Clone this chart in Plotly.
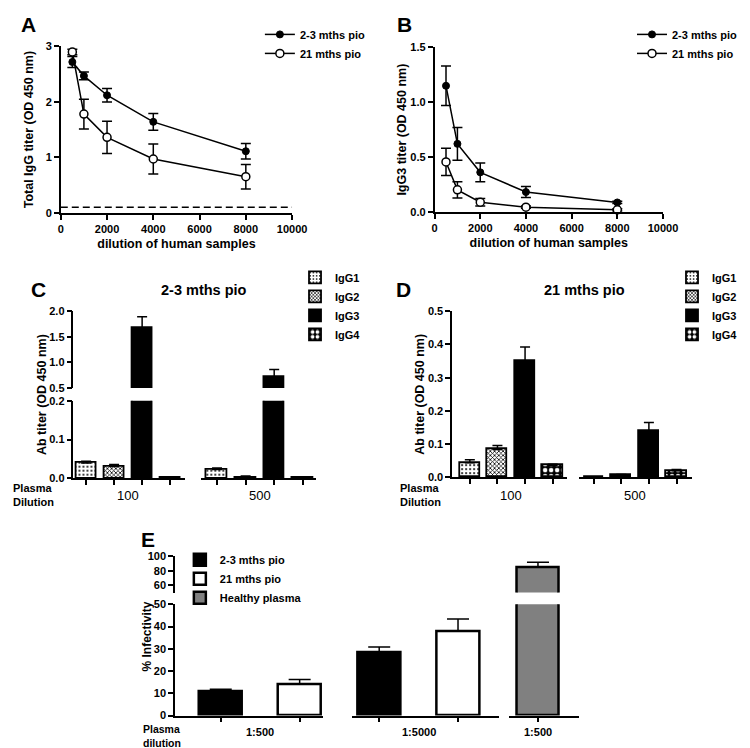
import plotly.graph_objects as go

W, H = 750, 748
FONT = "Liberation Sans, Arial, sans-serif"


def px(x):
    return x / W


def py(y):
    return 1 - y / H


# ---------------- data ----------------
series_names = ["2-3 mths pio", "21 mths pio"]
dilutions = [500, 1000, 2000, 4000, 8000]

# Panel A: total IgG
a_early = [2.72, 2.47, 2.12, 1.64, 1.11]
a_early_err = [0.10, 0.07, 0.12, 0.15, 0.14]
a_late = [2.90, 1.78, 1.36, 0.97, 0.65]
a_late_err = [0.05, 0.27, 0.29, 0.27, 0.22]
a_cutoff = 0.1
a_xticks = [0, 2000, 4000, 6000, 8000, 10000]

# Panel B: IgG3
b_early = [1.15, 0.62, 0.36, 0.18, 0.085]
b_early_err = [0.18, 0.15, 0.085, 0.05, 0.01]
b_late = [0.455, 0.20, 0.087, 0.042, 0.018]
b_late_err = [0.125, 0.075, 0.035, 0.01, 0.01]

# Panels C, D: subclasses
isotypes = ["IgG1", "IgG2", "IgG3", "IgG4"]
plasma_groups_cd = ["100", "500"]
c_100 = [0.040, 0.031, 1.66, 0.002]
c_100_err = [0.004, 0.005, 0.23, 0.001]
c_500 = [0.023, 0.003, 0.71, 0.001]
c_500_err = [0.004, 0.003, 0.15, 0.0]
d_100 = [0.044, 0.084, 0.351, 0.036]
d_100_err = [0.009, 0.012, 0.041, 0.004]
d_500 = [0.001, 0.006, 0.140, 0.020]
d_500_err = [0.0, 0.003, 0.025, 0.004]

# Panel E: infectivity
e_names = ["2-3 mths pio", "21 mths pio", "Healthy plasma"]
e_group_labels = ["1:500", "1:5000", "1:500"]
e_early = [10.8, 28.2]
e_early_err = [1.0, 2.6]
e_late = [14.2, 37.9]
e_late_err = [2.0, 5.5]
e_healthy = [84.7]
e_healthy_err = [7.0]

# ---------------- styles ----------------
iso_marker = {
    "IgG1": dict(color="white", line=dict(color="black", width=1.8),
                 pattern=dict(shape=".", fgcolor="black", bgcolor="white", size=4, solidity=0.2, fillmode="replace")),
    "IgG2": dict(color="white", line=dict(color="black", width=1.8),
                 pattern=dict(shape="x", fgcolor="black", bgcolor="white", size=3, solidity=0.45, fillmode="replace")),
    "IgG3": dict(color="black", line=dict(color="black", width=1.8)),
    "IgG4": dict(color="black", line=dict(color="black", width=1.8),
                 pattern=dict(shape=".", fgcolor="white", bgcolor="black", size=6, solidity=0.45, fillmode="replace")),
}

fig = go.Figure()


def err(arr, w, minus_zero=False):
    d = dict(type="data", array=arr, color="black", thickness=1.5, width=w, visible=True)
    if minus_zero:
        d.update(symmetric=False, arrayminus=[0] * len(arr))
    return d


# ---------- Panels A and B ----------
for (xa, ya, early, early_e, late, late_e, lg) in [
    ("x", "y", a_early, a_early_err, a_late, a_late_err, "legend"),
    ("x2", "y2", b_early, b_early_err, b_late, b_late_err, "legend2"),
]:
    fig.add_trace(go.Scatter(
        x=dilutions, y=early, mode="lines+markers", name=series_names[0],
        line=dict(color="black", width=1.5),
        marker=dict(symbol="circle", size=7, color="black", line=dict(color="black", width=1)),
        error_y=err(early_e, 5), xaxis=xa, yaxis=ya, legend=lg, cliponaxis=False))
    fig.add_trace(go.Scatter(
        x=dilutions, y=late, mode="lines+markers", name=series_names[1],
        line=dict(color="black", width=1.5),
        marker=dict(symbol="circle", size=8, color="white", line=dict(color="black", width=1.5)),
        error_y=err(late_e, 5), xaxis=xa, yaxis=ya, legend=lg, cliponaxis=False))

fig.add_trace(go.Scatter(
    x=[a_xticks[0], a_xticks[-1]], y=[a_cutoff, a_cutoff], mode="lines",
    line=dict(color="black", width=1.5, dash="7px,4px"), showlegend=False,
    xaxis="x", yaxis="y", hoverinfo="skip"))

# ---------- Panel C ----------
for seg in ["y3", "y4"]:
    for xa, vals, errs in [("x3", c_100, c_100_err), ("x4", c_500, c_500_err)]:
        for i, iso in enumerate(isotypes):
            fig.add_trace(go.Bar(
                x=[i], y=[vals[i]], width=0.72, name=iso, marker=iso_marker[iso],
                error_y=err([errs[i]], 5, True), xaxis=xa, yaxis=seg,
                legend="legend3", legendgroup="C" + iso,
                showlegend=(seg == "y3" and xa == "x3")))

# ---------- Panel D ----------
for xa, vals, errs in [("x5", d_100, d_100_err), ("x6", d_500, d_500_err)]:
    for i, iso in enumerate(isotypes):
        fig.add_trace(go.Bar(
            x=[i], y=[vals[i]], width=0.73, name=iso, marker=iso_marker[iso],
            error_y=err([errs[i]], 5, True), xaxis=xa, yaxis="y5",
            legend="legend4", legendgroup="D" + iso, showlegend=(xa == "x5")))

# ---------- Panel E ----------
e_marker = [
    dict(color="black", line=dict(color="black", width=2.5)),
    dict(color="white", line=dict(color="black", width=2.5)),
    dict(color="#808080", line=dict(color="black", width=2.5)),
]
for seg in ["y6", "y7"]:
    first = seg == "y6"
    fig.add_trace(go.Bar(x=[0], y=[e_early[0]], width=0.54, name=e_names[0], marker=e_marker[0],
                         error_y=err([e_early_err[0]], 11, True), xaxis="x7", yaxis=seg,
                         legend="legend5", legendgroup="E0", showlegend=first))
    fig.add_trace(go.Bar(x=[1], y=[e_late[0]], width=0.54, name=e_names[1], marker=e_marker[1],
                         error_y=err([e_late_err[0]], 11, True), xaxis="x7", yaxis=seg,
                         legend="legend5", legendgroup="E1", showlegend=first))
    fig.add_trace(go.Bar(x=[0], y=[e_early[1]], width=0.54, name=e_names[0], marker=e_marker[0],
                         error_y=err([e_early_err[1]], 11, True), xaxis="x8", yaxis=seg,
                         legend="legend5", legendgroup="E0", showlegend=False))
    fig.add_trace(go.Bar(x=[1], y=[e_late[1]], width=0.54, name=e_names[1], marker=e_marker[1],
                         error_y=err([e_late_err[1]], 11, True), xaxis="x8", yaxis=seg,
                         legend="legend5", legendgroup="E1", showlegend=False))
    fig.add_trace(go.Bar(x=[0], y=[e_healthy[0]], width=0.53, name=e_names[2], marker=e_marker[2],
                         error_y=err([e_healthy_err[0]], 11, True), xaxis="x9", yaxis=seg,
                         legend="legend5", legendgroup="E2", showlegend=first))


# ---------------- axes ----------------
def ax(size=11, **kw):
    d = dict(showline=True, linecolor="black", linewidth=1.5, ticks="outside", ticklen=5,
             tickwidth=1.5, tickcolor="black", showgrid=False, zeroline=False,
             tickfont=dict(family=FONT, size=size, color="black", weight="bold"))
    d.update(kw)
    return d


title_font = dict(family=FONT, size=12.5, color="black", weight="bold")
a_xticktext = [str(v) for v in a_xticks]

layout_axes = dict(
    # A
    xaxis=ax(11, domain=[px(51), px(288)], anchor="y", range=[0, 10000], tickvals=a_xticks,
             ticktext=a_xticktext,
             title=dict(text="dilution of human samples", font=title_font, standoff=6)),
    yaxis=ax(11, domain=[py(202), py(33)], anchor="x", range=[0, 3], tickvals=[0, 1, 2, 3],
             title=dict(text="Total IgG titer (OD 450 nm)", font=title_font, standoff=9)),
    # B
    xaxis2=ax(11, domain=[px(434), px(668)], anchor="y2", range=[0, 10000], tickvals=a_xticks,
              ticktext=a_xticktext,
              title=dict(text="dilution of human samples", font=title_font, standoff=6)),
    yaxis2=ax(11, domain=[py(201), py(34)], anchor="x2", range=[0, 1.5], tickvals=[0, 0.5, 1, 1.5],
              tickformat=".1f", title=dict(text="IgG3 titer (OD 450 nm)", font=title_font, standoff=1)),
    # C
    xaxis3=ax(domain=[px(64), px(178)], anchor="y3", range=[-0.45, 3.52], tickvals=[0, 1, 2, 3],
              showticklabels=False),
    xaxis4=ax(domain=[px(195), px(313)], anchor="y3", range=[-0.55, 3.48], tickvals=[0, 1, 2, 3],
              showticklabels=False),
    yaxis3=ax(11, domain=[py(472), py(393)], anchor="x3", range=[0, 0.2], tickvals=[0, 0.1, 0.2],
              tickformat=".1f"),
    yaxis4=ax(11, domain=[py(380), py(302)], anchor="x3", range=[0.5, 2.0], tickvals=[0.5, 1, 1.5, 2],
              tickformat=".1f"),
    # D
    xaxis5=ax(domain=[px(452), px(570)], anchor="y5", range=[-0.64, 3.53], tickvals=[0, 1, 2, 3],
              showticklabels=False),
    xaxis6=ax(domain=[px(582), px(698)], anchor="y5", range=[-0.53, 3.57], tickvals=[0, 1, 2, 3],
              showticklabels=False),
    yaxis5=ax(11, domain=[py(471), py(302)], anchor="x5", range=[0, 0.5],
              tickvals=[0, 0.1, 0.2, 0.3, 0.4, 0.5], tickformat=".1f",
              title=dict(text="Ab titer (OD 450 nm)", font=title_font, standoff=1)),
    # E
    xaxis7=ax(domain=[px(168), px(320)], anchor="y6", range=[-0.58, 1.30], tickvals=[0, 1],
              showticklabels=False),
    xaxis8=ax(domain=[px(349), px(500)], anchor="y6", range=[-0.35, 1.52], tickvals=[0, 1],
              showticklabels=False),
    xaxis9=ax(domain=[px(510), px(582)], anchor="y6", range=[-0.37, 0.52], tickvals=[0],
              showticklabels=False),
    yaxis6=ax(11, domain=[py(713), py(600)], anchor="x7", range=[0, 50], tickvals=[0, 10, 20, 30, 40, 50]),
    yaxis7=ax(11, domain=[py(588), py(551)], anchor="x7", range=[50, 100], tickvals=[60, 80, 100]),
)


def legend_cfg(x, y, size=11, xanchor="left"):
    return dict(x=x, y=py(y), xanchor=xanchor, yanchor="top", bgcolor="rgba(0,0,0,0)",
                font=dict(family=FONT, size=size, color="black", weight="bold"),
                tracegroupgap=0, traceorder="normal", borderwidth=0)


annotations = []


def note(text, x, y, size=11, bold=True, xanchor="center", yanchor="middle", xref="paper", textangle=0,
         align="center"):
    annotations.append(dict(text=text, x=x, y=y, xref=xref, yref="paper", showarrow=False,
                            xanchor=xanchor, yanchor=yanchor, textangle=textangle, align=align,
                            font=dict(family=FONT, size=size, color="black",
                                      weight="bold" if bold else "normal")))


# panel letters
for letter, x, y in [("A", 8, 11), ("B", 393, 11), ("C", 18, 280), ("D", 392, 280), ("E", 131, 534)]:
    note(letter, px(x), py(y), size=21, xanchor="left")

# titles
note("2-3 mths pio", px(198), py(280), size=14.5)
note("21 mths pio", px(588), py(280), size=14.5)

# C y-axis title (broken axis)
note("Ab titer (OD 450 nm)", px(32), py(387), size=12.5, textangle=-90)
# E y-axis title
note("% Infectivity", px(139), py(633), size=12, textangle=-90)

# plasma dilution labels
note("Plasma<br>Dilution", px(0), py(489), size=11, xanchor="left", align="left")
note("Plasma<br>Dilution", px(397), py(489), size=11, xanchor="left", align="left")
note("Plasma<br>dilution", px(133), py(734), size=10.5, xanchor="left", align="left")

# group labels on bar axes
for xref, lab in [("x3", plasma_groups_cd[0]), ("x4", plasma_groups_cd[1]),
                  ("x5", plasma_groups_cd[0]), ("x6", plasma_groups_cd[1])]:
    note(lab, 1.5, py(489), size=13, bold=False, xref=xref)
for xref, xpos, lab in [("x7", 0.5, e_group_labels[0]), ("x8", 0.5, e_group_labels[1]),
                        ("x9", 0, e_group_labels[2])]:
    note(lab, xpos, py(730), size=11, xref=xref)

fig.update_layout(
    width=W, height=H, margin=dict(l=0, r=0, t=0, b=0),
    paper_bgcolor="white", plot_bgcolor="rgba(0,0,0,0)",
    barmode="overlay", bargap=0,
    font=dict(family=FONT, color="black"),
    legend=legend_cfg(px(255), 6),
    legend2=legend_cfg(1.0, 6, xanchor="right"),
    legend3=legend_cfg(px(291), 253),
    legend4=legend_cfg(1.0, 253, xanchor="right"),
    legend5=legend_cfg(px(173), 540, size=11),
    annotations=annotations,
    **layout_axes,
)

fig.write_html("out.html")
